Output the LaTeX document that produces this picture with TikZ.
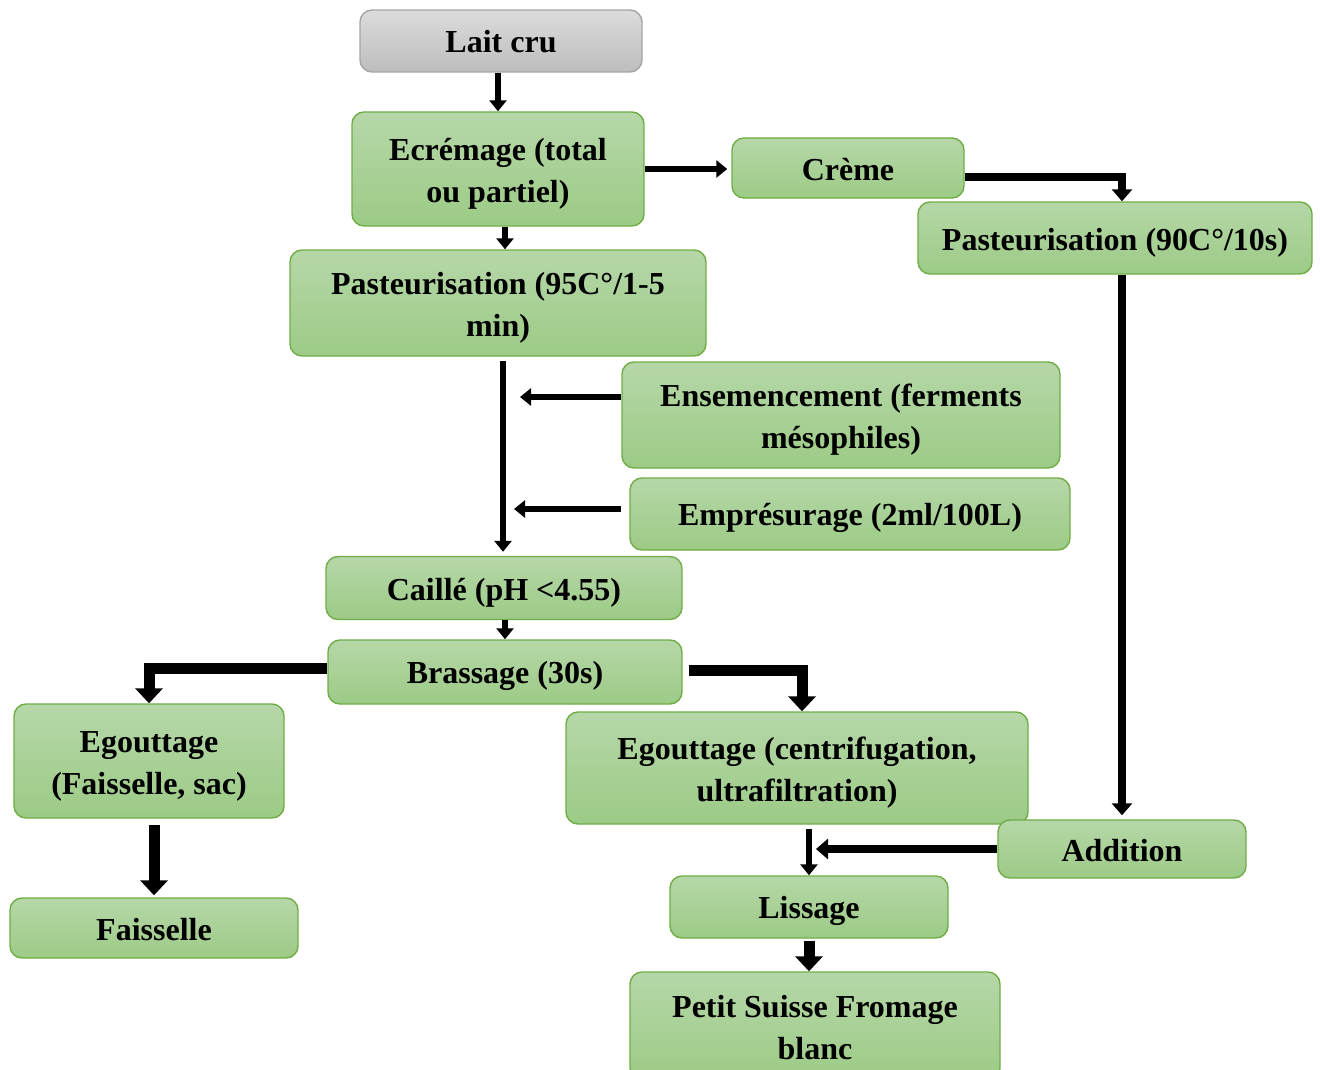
\documentclass[tikz,border=0pt]{standalone}
\usepackage{fontspec}
\setmainfont{Liberation Serif}
\usetikzlibrary{arrows.meta}
\definecolor{greentop}{HTML}{B6D7A8}
\definecolor{greenbot}{HTML}{9CCB86}
\definecolor{greenline}{HTML}{70AD47}
\definecolor{greytop}{HTML}{DCDCDC}
\definecolor{greybot}{HTML}{BDBDBD}
\definecolor{greyline}{HTML}{A5A5A5}
\newcommand{\boxtopstrut}{\rule{0pt}{0.97em}}
\newcommand{\boxbotstrut}{\rule[-0.22em]{0pt}{0pt}}
\tikzset{
  stepbox/.style={rectangle, rounded corners=12, line width=1.4,
    draw=greenline, top color=greentop, bottom color=greenbot,
    align=center, inner sep=0, font=\bfseries\fontsize{32}{42}\selectfont},
  arr/.style={line width=6, -{Triangle[width=17, length=11]}},
  arrmid/.style={line width=8.5, -{Triangle[width=20, length=12]}},
  arrbig/.style={line width=11, -{Triangle[width=27, length=15]}}
}
\begin{document}
\begin{tikzpicture}[x=1pt, y=-1pt]
  \useasboundingbox (0,0) rectangle (1320,1070);
  \node[stepbox, draw=greyline, top color=greytop, bottom color=greybot,
        minimum width=282, minimum height=62] (lait) at (501,41)
        {\boxtopstrut Lait cru\boxbotstrut};
  \foreach \nm/\x/\y/\w/\h/\lbl in {
    ecre/498/169/292/114/{Ecrémage (total\\ou partiel)},
    creme/848/168/232/60/{Crème},
    past90/1115/238/394/72/{Pasteurisation (90C°/10s)},
    past95/498/303/416/106/{Pasteurisation (95C°/1-5\\min)},
    ens/841/415/438/106/{Ensemencement (ferments\\mésophiles)},
    empr/850/514/440/72/{Emprésurage (2ml/100L)},
    caille/504/588/356/63/{Caillé (pH <4.55)},
    bras/505/672/354/64/{Brassage (30s)},
    egl/149/761/270/114/{Egouttage\\(Faisselle, sac)},
    egr/797/768/462/112/{Egouttage (centrifugation,\\ultrafiltration)},
    addit/1122/849/248/58/{Addition},
    faiss/154/928/288/60/{Faisselle},
    liss/809/907/278/62/{Lissage},
    petit/815/1026/370/108/{Petit Suisse Fromage\\blanc}}{
    \node[stepbox, minimum width=\w, minimum height=\h] (\nm) at (\x,\y)
      {\boxtopstrut\lbl\boxbotstrut};
  }
  % points where side arrows meet the main lines
  \coordinate (j1) at (520,397);
  \coordinate (j2) at (514,509);
  \coordinate (j3) at (816,849);

  \draw[arr] (lait.south -| ecre) -- (ecre.north);
  \draw[arr, shorten >=4] (ecre.east) -- (ecre.east -| creme.west);
  \draw[arrmid] ([yshift=-9]creme.east) -| ([xshift=7]past90.north);
  \draw[arr] (ecre.south -| 505,0) -- (past95.north -| 505,0);
  \draw[arr, shorten <=4, shorten >=4] (past95.south -| 503,0) -- (caille.north -| 503,0);
  \draw[arr] ([yshift=18]ens.west) -- (j1);
  \draw[arr, shorten <=8] ([yshift=5]empr.west) -- (j2);
  \draw[arr] (caille.south -| bras) -- (bras.north);
  \draw[arrbig] ([yshift=4]bras.west) -| (egl.north);
  \draw[arrbig, shorten <=6] ([yshift=2]bras.east) -| ([xshift=5]egr.north);
  \draw[arrmid, shorten >=4] (past90.south -| addit) -- (addit.north);
  \draw[arr, shorten <=4] (egr.south -| liss) -- (liss.north);
  \draw[arrmid] (addit.west) -- (j3);
  \draw[arrbig, shorten <=6, shorten >=2] (egl.south -| faiss) -- (faiss.north);
  \draw[arrbig, shorten <=2] (liss.south) -- (petit.north -| liss);
\end{tikzpicture}
\end{document}
